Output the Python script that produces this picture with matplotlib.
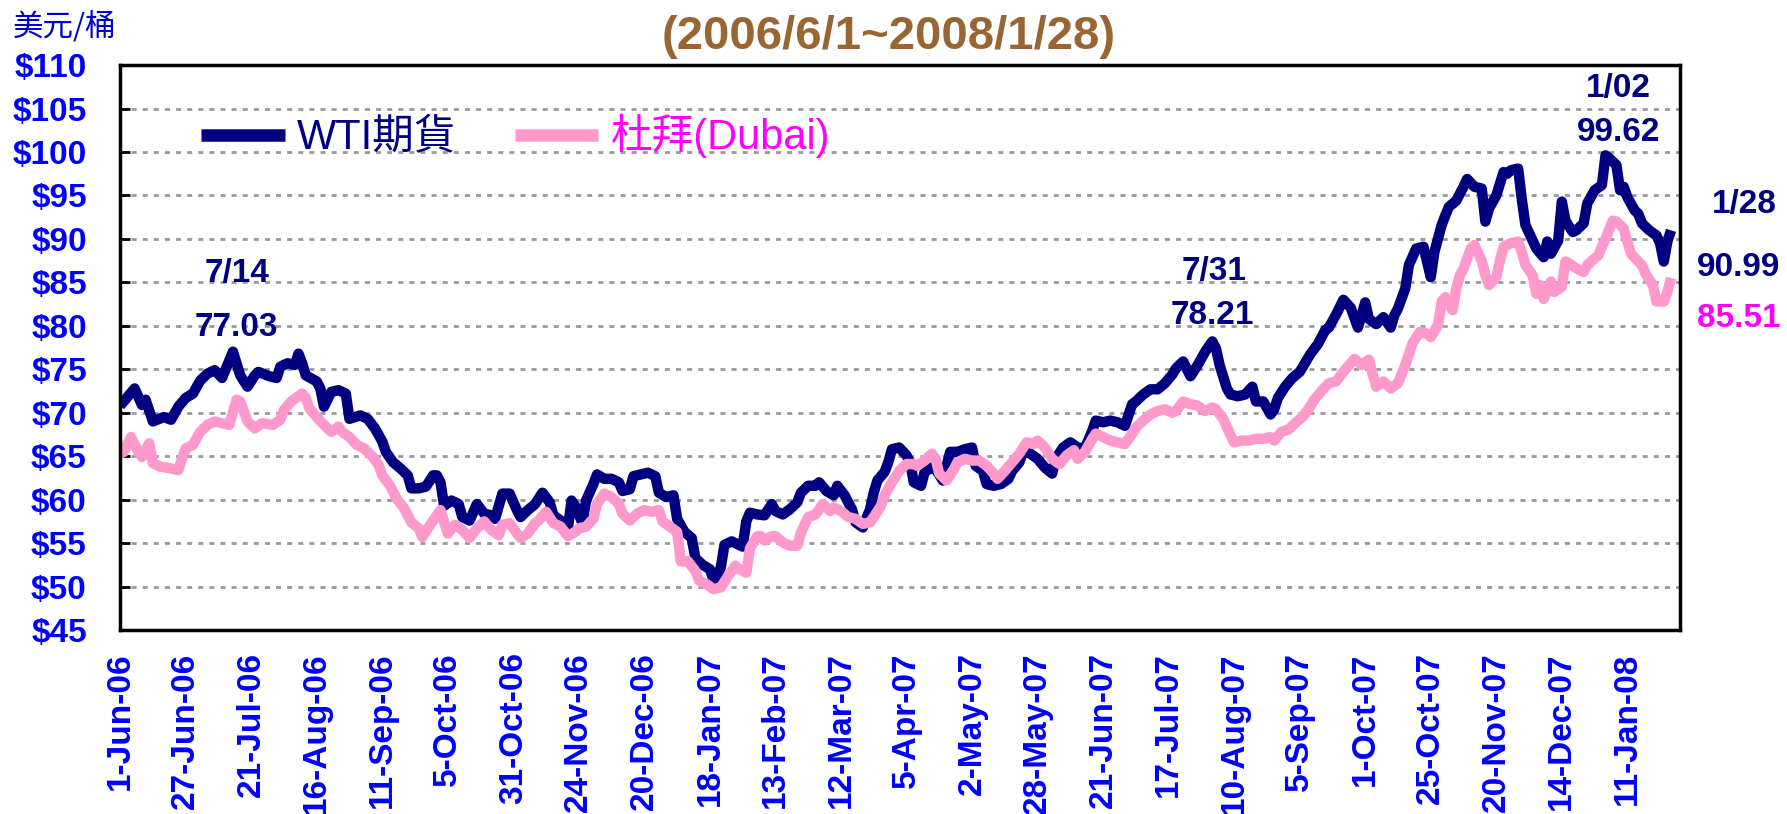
import matplotlib
matplotlib.use('Agg')
import matplotlib.pyplot as plt

# 國際原油價格 WTI vs 杜拜, 2006/6/1 ~ 2008/1/28
# x = 交易日序號 (0 = 1-Jun-06), 數值從圖上讀取

# WTI期貨 (美元/桶)
wti_idx = [0, 1, 4, 6, 7, 9, 12, 14, 16, 18, 20, 22, 24, 26, 28, 30, 31, 33, 35, 37, 38, 41, 43, 44, 46,
           48, 49, 50, 51, 54, 55, 56, 58, 60, 62, 63, 66, 68, 70, 72, 73, 75, 77, 79, 80, 82, 84, 86, 87,
           88, 89, 91, 93, 94, 96, 98, 100, 102, 103, 105, 107, 109, 110, 112, 114, 116, 118, 119, 121,
           123, 124, 125, 127, 128, 130, 131, 133, 135, 137, 138, 140, 141, 143, 145, 147, 148, 150, 152, 153,
           155, 157, 158, 160, 162, 163, 164, 165, 166, 168, 169, 171, 172, 173, 175,
           177, 179, 180, 182, 184, 186, 187, 189, 191, 192, 194, 196, 197, 199, 201, 202, 204, 206, 207, 208,
           210, 211, 212, 214, 216, 217, 218, 220, 221, 223, 224, 226, 228, 230, 232, 234, 235, 237, 238, 240,
           242, 244, 245, 247, 248, 250, 252, 254, 256, 257, 259, 261, 263,
           265, 267, 268, 270, 272, 274, 276, 278, 279, 281, 283, 285, 287, 289, 290, 292, 294, 296, 298, 300,
           301, 302, 304, 305, 307, 309, 311, 312, 314, 316, 317, 318, 320, 322, 324, 326, 327, 329, 331, 332,
           334, 336, 338, 340, 342, 343, 345, 347, 349, 350, 351, 353,
           354, 356, 358, 360, 361, 363, 364, 365, 367, 369, 370, 372, 374, 375, 376, 378, 380, 381, 382, 384,
           385, 386, 388, 389, 391, 392, 393, 395, 396, 397, 399, 400, 402, 403, 405, 407, 408, 409, 411, 412,
           413, 414, 416, 417, 418, 420, 422, 423, 424, 425, 426]
wti_val = [70.8, 71.3, 72.8, 70.9, 71.5, 69.0, 69.5, 69.2, 70.7, 71.7, 72.2, 73.7, 74.5, 74.9, 74.0, 76.0, 77.03,
           74.3, 73.0, 74.3, 74.7, 74.2, 74.0, 75.3, 75.7, 75.5, 76.8, 75.7, 74.3, 73.6, 72.8, 70.7, 72.4, 72.6,
           72.2, 69.3, 69.7, 69.3, 68.2, 66.7, 65.5, 64.3, 63.6, 62.8, 61.3, 61.3, 61.5, 62.8, 62.8,
           62.0, 59.3, 59.9, 59.5, 58.0, 57.6, 59.5, 58.4, 58.2, 57.8, 60.7, 60.7, 58.8, 58.0, 58.8, 59.5, 60.8,
           59.7, 58.2, 57.6, 56.7, 59.9, 59.3, 57.3, 59.9, 61.8, 62.9, 62.4, 62.4, 62.0, 61.0, 61.2, 62.7, 62.9,
           63.1, 62.7, 60.8, 60.3, 60.5, 57.8, 56.3, 55.6, 53.3, 52.5, 52.0, 50.8, 51.2, 52.2, 54.8, 55.2, 55.0,
           54.6, 57.5, 58.5, 58.3,
           58.2, 59.5, 58.7, 58.3, 58.9, 59.7, 60.8, 61.6, 61.6, 62.0, 61.0, 60.5, 61.6, 60.5, 58.9, 57.4, 56.8,
           58.9, 60.8, 62.2, 63.2, 64.3, 65.8, 66.0, 65.1, 64.3, 62.0, 61.6, 63.2, 63.7, 63.5, 62.2, 65.5, 65.5,
           65.8, 66.0, 63.9, 63.3, 61.8, 61.6, 61.8, 62.4, 63.3, 64.3, 65.5, 65.3, 64.7, 63.7, 63.0, 64.7, 66.0,
           66.6, 66.0,
           65.9, 67.9, 69.1, 68.9, 69.1, 68.9, 68.5, 71.0, 71.3, 72.1, 72.7, 72.7, 73.4, 74.4, 75.1, 75.9, 74.2,
           75.5, 77.0, 78.21, 77.4, 75.5, 72.8, 72.1, 71.9, 72.1, 73.0, 71.3, 71.3, 69.8, 70.4, 71.7, 73.0, 74.0,
           74.7, 76.1, 76.8, 77.9, 79.5, 79.8, 81.3, 83.0, 82.1, 79.8, 82.7, 80.8, 80.2, 81.0, 79.8, 81.2, 82.0,
           84.3,
           87.0, 88.9, 89.1, 85.6, 88.5, 91.6, 92.7, 93.7, 94.4, 96.0, 96.9, 96.0, 95.8, 92.0, 93.5, 95.0, 97.7,
           97.5, 97.9, 98.1, 94.6, 91.6, 89.8, 88.9, 87.9, 89.7, 88.3, 89.8, 94.3, 92.1, 90.8, 91.0, 91.8, 94.1,
           95.6, 96.2, 99.62, 99.3, 98.5, 95.6, 96.0, 94.8, 93.3, 92.9, 91.8, 91.0, 90.4, 89.5, 87.4, 89.7, 90.99]

# 杜拜 (Dubai)
dubai_idx = [0, 1, 3, 5, 6, 8, 9, 11, 14, 16, 17, 18, 20, 22, 24, 26, 28, 30, 32, 33, 35, 37, 39, 42, 44,
             45, 47, 50, 51, 52, 54, 56, 58, 60, 61, 63, 65, 67, 69, 71, 72, 74, 76, 78, 80, 82, 83, 85, 87,
             88, 90, 92, 94, 96, 98, 100, 102, 104, 105, 107, 109, 110, 112, 114, 115, 117, 119, 121, 123,
             125, 126, 128, 130, 131, 133, 135, 137, 138, 140, 142, 144, 146, 148, 149, 151, 153, 154, 156, 158,
             159, 161, 163, 165, 167, 169, 170, 172, 173, 175, 176,
             177, 179, 180, 182, 184, 186, 187, 189, 191, 193, 195, 196, 198, 200, 202, 204, 206, 207, 209, 210,
             212, 214, 216, 218, 219, 221, 223, 224, 225, 227, 229, 230, 232, 234, 236, 238, 240, 241, 243, 245,
             247, 249, 251, 252, 254, 256, 258, 260, 262, 263,
             265, 267, 268, 270, 272, 274, 276, 278, 279, 281, 283, 285, 287, 289, 290, 292, 294, 296, 298, 300,
             301, 303, 305, 306, 308, 310, 312, 314, 316, 317, 319, 321, 323, 325, 327, 328, 330, 332, 334, 336,
             338, 339, 341, 343, 344, 345, 347, 349, 351,
             353, 355, 357, 359, 360, 362, 363, 364, 366, 367, 368, 369, 371, 372, 374, 375, 376, 378, 379, 380,
             382, 384, 385, 386, 388, 389, 390, 391, 393, 394, 396, 397, 398, 400, 402, 403, 404, 406, 407, 408,
             410, 411, 413, 414, 415, 417, 418, 419, 421, 422, 424, 425, 426]
dubai_val = [65.3, 65.5, 67.2, 65.5, 64.9, 66.5, 64.2, 63.8, 63.6, 63.4, 64.7, 65.9, 66.3, 67.8, 68.6, 69.0, 68.8,
             68.6, 71.5, 71.3, 69.0, 68.2, 68.8, 68.6, 69.2, 70.3, 71.3, 72.2, 71.7, 70.5, 69.5, 68.6, 67.8, 68.4,
             67.8, 67.2, 66.3, 65.9, 65.1, 64.0, 62.8, 61.7, 60.1, 59.0, 57.4, 56.7, 55.7, 57.0, 58.2,
             58.8, 56.1, 57.1, 56.5, 55.6, 56.7, 57.5, 56.5, 55.9, 57.1, 57.3, 56.1, 55.6, 56.1, 57.3, 57.6, 58.6,
             57.3, 56.9, 55.8, 56.3, 56.7, 56.9, 57.8, 59.5, 60.7, 60.3, 59.5, 58.4, 57.6, 58.4, 58.8, 58.6, 58.8,
             57.5, 56.9, 56.3, 52.9, 52.9, 51.8, 50.7, 50.3, 49.7, 49.9, 51.2, 52.4, 52.0, 51.6, 54.4, 55.8, 55.8,
             55.3, 55.8, 55.8, 55.1, 54.7, 54.7, 56.2, 58.0, 58.3, 59.5, 58.7, 59.1, 58.7, 58.0, 57.8, 57.2, 57.4,
             58.0, 59.3, 60.5, 62.0, 63.3, 64.1, 64.1, 63.9, 64.5, 65.3, 64.7, 63.0, 62.2, 63.5, 64.3, 64.7, 64.5,
             64.5, 63.9, 63.0, 62.4, 63.3, 64.3, 65.3, 66.6, 66.4, 66.8, 66.0, 64.7, 64.1, 65.1, 65.7, 64.7,
             65.5, 67.0, 67.6, 67.2, 66.8, 66.6, 66.4, 67.6, 68.3, 69.1, 69.8, 70.2, 70.4, 70.0, 70.2, 71.3, 71.0,
             70.8, 70.2, 70.6, 70.4, 69.3, 67.4, 66.6, 66.8, 66.8, 67.0, 67.0, 67.2, 66.8, 67.8, 68.1, 68.9, 69.6,
             70.8, 71.5, 72.5, 73.4, 73.6, 74.7, 75.7, 76.2, 75.5, 76.1, 74.5, 73.0, 73.6, 72.8, 73.4,
             75.5, 78.0, 79.3, 79.1, 78.7, 80.1, 82.8, 83.3, 81.8, 84.3, 85.8, 86.6, 88.9, 89.3, 87.5, 85.8, 84.7,
             85.6, 87.5, 89.1, 89.5, 89.7, 88.5, 87.0, 85.8, 83.7, 84.7, 83.1, 85.1, 83.9, 84.5, 87.4, 87.2, 86.6,
             86.2, 87.0, 87.4, 88.1, 89.1, 90.0, 92.1, 92.0, 91.2, 89.7, 88.3, 87.4, 87.0, 86.0, 84.7, 82.8, 82.8,
             83.9, 85.51]

assert len(wti_idx) == len(wti_val)
assert len(dubai_idx) == len(dubai_val)

# x軸標籤: 每18個交易日一個
tick_labels = ['1-Jun-06', '27-Jun-06', '21-Jul-06', '16-Aug-06', '11-Sep-06', '5-Oct-06', '31-Oct-06',
               '24-Nov-06', '20-Dec-06', '18-Jan-07', '13-Feb-07', '12-Mar-07', '5-Apr-07', '2-May-07',
               '28-May-07', '21-Jun-07', '17-Jul-07', '10-Aug-07', '5-Sep-07', '1-Oct-07', '25-Oct-07',
               '20-Nov-07', '14-Dec-07', '11-Jan-08']
tick_step = 18
y_ticks = list(range(45, 111, 5))

NAVY = '#000080'
PINK = '#FF99CC'
MAGENTA = '#FF00FF'
BLUE = '#0000FF'
BROWN = '#996633'
latin = ['Liberation Sans', 'Noto Sans CJK TC', 'DejaVu Sans']
cjk = ['Noto Sans CJK TC', 'DejaVu Sans']

fig = plt.figure(figsize=(17.87, 8.14), dpi=100)
ax = fig.add_axes([0.0672, 0.226, 0.873, 0.694])

ax.plot(wti_idx, wti_val, color=NAVY, lw=7.5, solid_capstyle='butt', label='WTI期貨')
ax.plot(dubai_idx, dubai_val, color=PINK, lw=7.5, solid_capstyle='butt', label='杜拜(Dubai)')

ax.set_xlim(0, 428.5)
ax.set_ylim(45, 110)

ax.set_yticks(y_ticks)
ax.set_yticklabels(['$%d' % v for v in y_ticks], fontsize=24, fontweight='bold', color=BLUE, family=latin)
ax.set_xticks([i * tick_step for i in range(len(tick_labels))])
ax.set_xticklabels(tick_labels, rotation=90, fontsize=24, fontweight='bold', color=BLUE, family=latin)
ax.tick_params(axis='y', direction='in', length=7, width=2, pad=24)
ax.tick_params(axis='x', length=0, pad=16)

ax.yaxis.grid(True, color='#999999', lw=2, ls=(0, (1.8, 2.2)))
ax.set_axisbelow(True)
for s in ax.spines.values():
    s.set_linewidth(2.5)
    s.set_color('black')

leg = ax.legend(loc='upper left', bbox_to_anchor=(0.028, 0.98), ncol=2, frameon=False,
                prop={'family': latin, 'size': 30}, handlelength=2.0, handletextpad=0.3,
                columnspacing=1.4, labelcolor=[NAVY, MAGENTA])
for line in leg.get_lines():
    line.set_linewidth(9)

# 標註
ax.text(32, 86.0, '7/14', ha='center', va='center', fontsize=24, fontweight='bold', color=NAVY, family=latin)
ax.text(32, 79.8, '77.03', ha='center', va='center', fontsize=24, fontweight='bold', color=NAVY, family=latin)
ax.text(300.5, 86.2, '7/31', ha='center', va='center', fontsize=24, fontweight='bold', color=NAVY, family=latin)
ax.text(300, 81.2, '78.21', ha='center', va='center', fontsize=24, fontweight='bold', color=NAVY, family=latin)
ax.text(411.5, 107.3, '1/02', ha='center', va='center', fontsize=24, fontweight='bold', color=NAVY, family=latin)
ax.text(411.5, 102.3, '99.62', ha='center', va='center', fontsize=24, fontweight='bold', color=NAVY, family=latin)
ax.text(446, 94.0, '1/28', ha='center', va='center', fontsize=24, fontweight='bold', color=NAVY,
        family=latin, clip_on=False)
ax.text(444.5, 86.7, '90.99', ha='center', va='center', fontsize=24, fontweight='bold', color=NAVY,
        family=latin, clip_on=False)
ax.text(444.5, 80.8, '85.51', ha='center', va='center', fontsize=24, fontweight='bold', color=MAGENTA,
        family=latin, clip_on=False)

fig.text(0.007, 0.967, '美元/桶', ha='left', va='center', fontsize=22, color='#0000CC', family=cjk)
fig.text(0.4975, 0.955, '(2006/6/1~2008/1/28)', ha='center', va='center', fontsize=34,
         fontweight='bold', color=BROWN, family=latin)
# 第一行標題在原圖中被裁掉, 只露出底部
fig.text(0.4975, 0.9955, '國際原油價格走勢', ha='center', va='bottom', fontsize=32,
         fontweight='bold', color=BROWN, family=cjk)

fig.savefig('out.png', dpi=100)
